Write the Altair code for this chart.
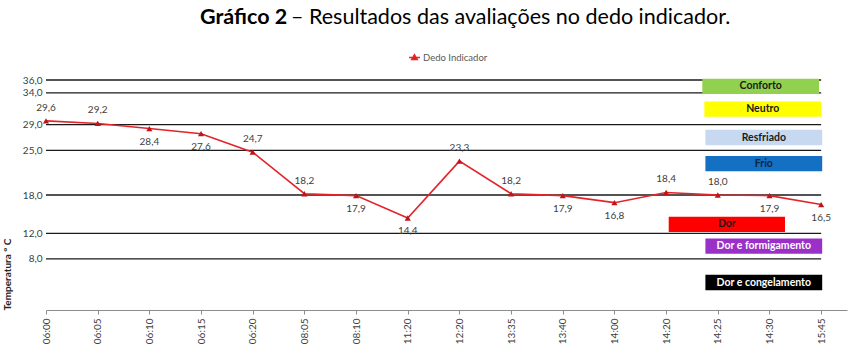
import altair as alt
import pandas as pd

# ---- data ----
times = ["06:00", "06:05", "06:10", "06:15", "06:20", "08:05", "08:10", "11:20",
         "12:20", "13:35", "13:40", "14:00", "14:20", "14:25", "14:30", "15:45"]
temps = [29.6, 29.2, 28.4, 27.6, 24.7, 18.2, 17.9, 14.4,
         23.3, 18.2, 17.9, 16.8, 18.4, 18.0, 17.9, 16.5]
label_side = ["above", "above", "below", "below", "above", "above", "below", "below",
              "above", "above", "below", "below", "above", "above", "below", "below"]
grid_values = [36, 34, 29, 25, 18, 12, 8]

zone_names = ["Conforto", "Neutro", "Resfriado", "Frio", "Dor",
              "Dor e formigamento", "Dor e congelamento"]
zone_temp = [35.0, 31.45, 27.0, 22.9, 13.4, 10.0, 4.3]
zone_start = [12.70, 12.74, 12.76, 12.76, 12.05, 12.76, 12.76]
zone_end = [14.96, 15.0, 15.02, 15.02, 14.30, 15.02, 15.02]
zone_fill = ["#92d050", "#ffff00", "#c6d9f1", "#1370c2", "#ff0000", "#9b30c8", "#000000"]
zone_text = ["#1a1a1a", "#1a1a1a", "#1a1a1a", "#10243e", "#1a1a1a", "#ffffff", "#ffffff"]

FONT = "Lato"

df = pd.DataFrame({
    "i": list(range(len(times))),
    "time": times,
    "temp": temps,
    "side": label_side,
    "series": ["Dedo Indicador"] * len(times),
    "label": [f"{v:.1f}".replace(".", ",") for v in temps],
})
grid_df = pd.DataFrame({"y": grid_values, "x0": [0] * len(grid_values),
                        "x1": [len(times) - 1] * len(grid_values)})
zones = pd.DataFrame({"name": zone_names, "t": zone_temp, "x0": zone_start,
                      "x1": zone_end, "fill": zone_fill, "tc": zone_text})

xscale = alt.Scale(domain=[0, 15.5], nice=False, zero=False)
yscale = alt.Scale(domain=[0, 36], nice=False, zero=False)

time_arr = "[" + ",".join(f"'{t}'" for t in times) + "]"
x_axis = alt.Axis(values=list(range(len(times))), labelExpr=f"{time_arr}[datum.value]",
                  labelAngle=270, grid=False, domainColor="#8c8c8c", tickColor="#8c8c8c",
                  tickSize=4, labelFont=FONT, labelFontSize=10, labelColor="#404040",
                  title=None, labelPadding=4, labelOverlap=False)
y_axis = alt.Axis(values=grid_values,
                  labelExpr="replace(format(datum.value, '.1f'), '.', ',')",
                  domain=False, ticks=False, grid=False, labelPadding=4,
                  labelOverlap=False,
                  labelFont=FONT, labelFontSize=10, labelColor="#404040",
                  title="Temperatura ° C", titleFont=FONT, titleFontSize=10,
                  titleFontWeight="bold", titleColor="#262626",
                  titleAnchor="start", titleX=-34)

rules = alt.Chart(grid_df).mark_rule(color="#1a1a1a", strokeWidth=1.3).encode(
    x=alt.X("x0:Q", scale=xscale, axis=x_axis),
    x2="x1:Q",
    y=alt.Y("y:Q", scale=yscale, axis=y_axis),
)

line = alt.Chart(df).mark_line(strokeWidth=1.6).encode(
    x=alt.X("i:Q", scale=xscale, axis=x_axis),
    y=alt.Y("temp:Q", scale=yscale, axis=y_axis),
    stroke=alt.Stroke("series:N", scale=alt.Scale(range=["#e3242b"]),
                      legend=alt.Legend(title=None, orient="none", legendX=362, legendY=-29,
                                        symbolType="M-1,0H1M0,-0.5L0.5,0.35H-0.5Z",
                                        symbolSize=120, symbolStrokeWidth=1.5,
                                        symbolFillColor="#c0141b",
                                        labelFont=FONT, labelFontSize=9.5,
                                        labelColor="#595959", labelOffset=2)),
)

points = alt.Chart(df).mark_point(shape="triangle-up", filled=True, color="#c0141b",
                                  size=38, opacity=1).encode(
    x=alt.X("i:Q", scale=xscale, axis=x_axis),
    y=alt.Y("temp:Q", scale=yscale, axis=y_axis),
)

lab_above = alt.Chart(df).transform_filter("datum.side == 'above'").mark_text(
    dy=-13, font=FONT, fontSize=10, color="#404040").encode(
    x=alt.X("i:Q", scale=xscale, axis=x_axis), y=alt.Y("temp:Q", scale=yscale, axis=y_axis),
    text="label:N")
lab_below = alt.Chart(df).transform_filter("datum.side == 'below'").mark_text(
    dy=13, font=FONT, fontSize=10, color="#404040").encode(
    x=alt.X("i:Q", scale=xscale, axis=x_axis), y=alt.Y("temp:Q", scale=yscale, axis=y_axis),
    text="label:N")

zone_rect = alt.Chart(zones).transform_calculate(
    lo="datum.t - 1.2", hi="datum.t + 1.2").mark_rect().encode(
    x=alt.X("x0:Q", scale=xscale, axis=x_axis), x2="x1:Q",
    y=alt.Y("lo:Q", scale=yscale, axis=y_axis), y2="hi:Q",
    fill=alt.Fill("fill:N", scale=None),
)
zone_txt = alt.Chart(zones).transform_calculate(
    xm="(datum.x0 + datum.x1) / 2").mark_text(
    font=FONT, fontSize=10.5, fontWeight="bold").encode(
    x=alt.X("xm:Q", scale=xscale, axis=x_axis), y=alt.Y("t:Q", scale=yscale, axis=y_axis),
    text="name:N", fill=alt.Fill("tc:N", scale=None),
)

title_df = pd.DataFrame({"a": ["Gráfico 2"], "b": ["– Resultados das avaliações no dedo indicador."]})
title_bold = alt.Chart(title_df).mark_text(
    font=FONT, fontSize=21.5, fontWeight="bold", align="left", baseline="middle",
    color="#000000").encode(x=alt.value(154), y=alt.value(-62), text="a:N")
title_norm = alt.Chart(title_df).mark_text(
    font=FONT, fontSize=21.5, align="left", baseline="middle",
    color="#000000").encode(x=alt.value(245), y=alt.value(-62), text="b:N")

chart = alt.layer(
    rules, zone_rect, zone_txt, line, points, lab_above, lab_below, title_bold, title_norm
).resolve_scale(fill="independent", stroke="independent").properties(
    width=801, height=230,
    autosize=alt.AutoSizeParams(type="none"),
    padding={"left": 46, "top": 80, "right": 5, "bottom": 43},
    background="white",
).configure_view(stroke=None).configure_axis(labelOverlap=False)

chart.save("out.html", embed_options={"renderer": "svg", "actions": False})
